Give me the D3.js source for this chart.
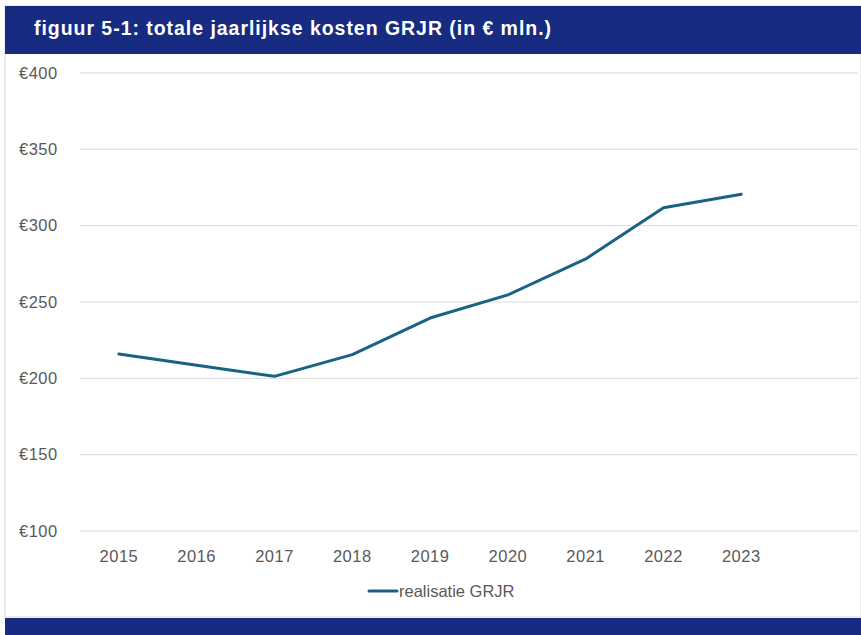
<!DOCTYPE html>
<html>
<head>
<meta charset="utf-8">
<script src="https://cdn.jsdelivr.net/npm/d3@7"></script>
<style>
  html, body { margin: 0; padding: 0; background: #ffffff; }
  svg { display: block; }
</style>
</head>
<body>
<svg id="chart" width="861" height="635"></svg>
<script>
// ---- data ----
const title = "figuur 5-1: totale jaarlijkse kosten GRJR (in € mln.)";
const categories = ["2015", "2016", "2017", "2018", "2019", "2020", "2021", "2022", "2023", ""];
const seriesName = "realisatie GRJR";
const seriesValues = [216, 208.6, 201.3, 215.5, 239.5, 254.7, 278.2, 311.8, 320.6, null];
const yTicks = [100, 150, 200, 250, 300, 350, 400];

// ---- layout ----
const W = 861, H = 635;
const svg = d3.select("#chart");
const navy = "#172b80";
const lineColor = "#1a6284";
const font = "'Liberation Sans', Arial, sans-serif";

// panel
svg.append("rect").attr("x", 5).attr("y", 6).attr("width", W - 5).attr("height", 611)
  .attr("fill", "#ffffff").attr("stroke", "#d9d9d9").attr("stroke-width", 1);
// title bar
svg.append("rect").attr("x", 5).attr("y", 6).attr("width", W - 5).attr("height", 48).attr("fill", navy);
svg.append("text").attr("x", 34).attr("y", 35).attr("fill", "#ffffff")
  .attr("font-family", font).attr("font-weight", "bold").attr("font-size", 19.5)
  .attr("textLength", 517).attr("lengthAdjust", "spacing")
  .text(title);
// bottom bar
svg.append("rect").attr("x", 5).attr("y", 618).attr("width", W - 5).attr("height", H - 618).attr("fill", navy);

// scales
const x = d3.scaleBand().domain(d3.range(categories.length)).range([80, 858]);
const y = d3.scaleLinear().domain([100, 400]).range([531, 73]);

// gridlines
svg.append("g").selectAll("line").data(yTicks).join("line")
  .attr("x1", 80).attr("x2", 858)
  .attr("y1", d => y(d)).attr("y2", d => y(d))
  .attr("stroke", "#d9d9d9").attr("stroke-width", 1);

// y axis labels
const yAxis = d3.axisLeft(y).tickValues(yTicks).tickSize(0).tickPadding(0)
  .tickFormat(d => "€" + d);
const gy = svg.append("g").attr("transform", "translate(19,0)").call(yAxis);
gy.select(".domain").remove();
gy.selectAll("text").attr("text-anchor", "start").attr("fill", "#595959")
  .attr("font-family", font).attr("font-size", 16.5).attr("letter-spacing", 0.5);

// x axis labels
const xAxis = d3.axisBottom(x).tickSize(0).tickPadding(0).tickFormat(i => categories[i]);
const gx = svg.append("g").attr("transform", "translate(0,550)").call(xAxis);
gx.select(".domain").remove();
gx.selectAll("text").attr("fill", "#595959").attr("font-family", font).attr("font-size", 16.5)
  .attr("letter-spacing", 0.5);

// line
const line = d3.line()
  .defined(d => d.v != null)
  .x(d => x(d.i) + x.bandwidth() / 2)
  .y(d => y(d.v));
svg.append("path")
  .datum(seriesValues.map((v, i) => ({ i, v })))
  .attr("d", line)
  .attr("fill", "none").attr("stroke", lineColor).attr("stroke-width", 3)
  .attr("stroke-linejoin", "round").attr("stroke-linecap", "round");

// legend
svg.append("line").attr("x1", 369).attr("x2", 397).attr("y1", 591).attr("y2", 591)
  .attr("stroke", lineColor).attr("stroke-width", 3).attr("stroke-linecap", "round");
svg.append("text").attr("x", 399).attr("y", 597).attr("fill", "#595959")
  .attr("font-family", font).attr("font-size", 16.5).text(seriesName);
</script>
</body>
</html>
